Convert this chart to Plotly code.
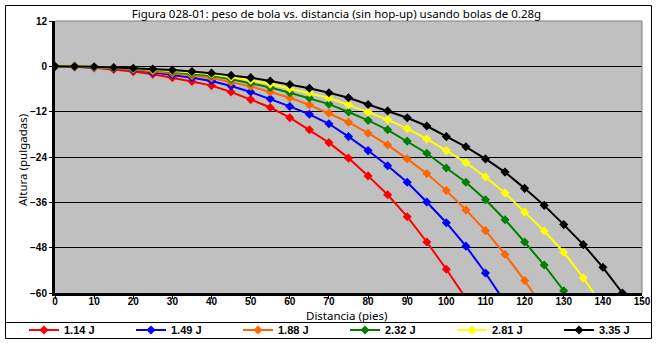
import plotly.graph_objects as go

# distance (feet)
dist_114 = [0, 5, 10, 15, 20, 25, 30, 35, 40, 45, 50, 55, 60, 65, 70, 75, 80, 85, 90, 95, 100, 105]
drop_114 = [0, -0.1, -0.4, -0.8, -1.4, -2.1, -3.0, -4.0, -5.1, -6.8, -8.8, -10.9, -13.6, -16.8, -20.2,
            -24.3, -29.0, -34.0, -39.8, -46.5, -53.7, -61.4]

dist_149 = [0, 5, 10, 15, 20, 25, 30, 35, 40, 45, 50, 55, 60, 65, 70, 75, 80, 85, 90, 95, 100, 105, 110, 115]
drop_149 = [0, -0.1, -0.3, -0.6, -1.0, -1.6, -2.3, -3.0, -3.9, -5.2, -6.8, -8.6, -10.6, -12.7, -15.2,
            -18.6, -22.3, -26.3, -30.7, -35.9, -41.4, -47.6, -54.7, -62.5]

dist_188 = [0, 5, 10, 15, 20, 25, 30, 35, 40, 45, 50, 55, 60, 65, 70, 75, 80, 85, 90, 95, 100, 105, 110,
            115, 120, 125]
drop_188 = [0, -0.1, -0.2, -0.5, -0.8, -1.3, -1.8, -2.5, -3.1, -4.2, -5.3, -6.8, -8.3, -10.2, -12.4,
            -14.8, -17.7, -20.8, -24.5, -28.4, -32.9, -38.0, -43.5, -49.8, -56.7, -64.3]

dist_232 = [0, 5, 10, 15, 20, 25, 30, 35, 40, 45, 50, 55, 60, 65, 70, 75, 80, 85, 90, 95, 100, 105, 110,
            115, 120, 125, 130, 135]
drop_232 = [0, 0, -0.2, -0.4, -0.7, -1.0, -1.5, -2.0, -2.5, -3.4, -4.4, -5.6, -7.0, -8.4, -10.0,
            -12.1, -14.3, -16.8, -19.8, -23.0, -26.9, -30.7, -35.3, -40.6, -46.5, -52.6, -59.4, -67.0]

dist_281 = [0, 5, 10, 15, 20, 25, 30, 35, 40, 45, 50, 55, 60, 65, 70, 75, 80, 85, 90, 95, 100, 105, 110,
            115, 120, 125, 130, 135, 140]
drop_281 = [0, 0, -0.2, -0.3, -0.6, -0.9, -1.2, -1.6, -2.1, -2.9, -3.7, -4.7, -5.9, -7.0, -8.4,
            -10.2, -12.1, -14.1, -16.5, -19.2, -22.3, -25.5, -29.3, -33.5, -38.6, -43.6, -49.2, -56.0, -63.5]

dist_335 = [0, 5, 10, 15, 20, 25, 30, 35, 40, 45, 50, 55, 60, 65, 70, 75, 80, 85, 90, 95, 100, 105, 110,
            115, 120, 125, 130, 135, 140, 145]
drop_335 = [0, 0, -0.1, -0.3, -0.5, -0.7, -1.0, -1.4, -1.8, -2.4, -3.0, -3.9, -4.8, -5.8, -7.0,
            -8.3, -10.1, -11.8, -13.6, -15.8, -18.6, -21.3, -24.5, -28.0, -32.3, -36.8, -41.9, -47.2, -53.2, -60.0]

series_names = ["1.14 J", "1.49 J", "1.88 J", "2.32 J", "2.81 J", "3.35 J"]
series_x = [dist_114, dist_149, dist_188, dist_232, dist_281, dist_335]
series_y = [drop_114, drop_149, drop_188, drop_232, drop_281, drop_335]
series_colors = ["#FF0000", "#0000FF", "#FF6600", "#008000", "#FFFF00", "#000000"]

x_ticks = list(range(0, 151, 10))
y_ticks = [12, 0, -12, -24, -36, -48, -60]

title_text = "Figura 028-01: peso de bola vs. distancia (sin hop-up) usando bolas de 0.28g"
x_title = "Distancia (pies)"
y_title = "Altura (pulgadas)"

W, H = 657, 343
ML, MR, MT, MB = 55, 15, 21, 50
PW, PH = W - ML - MR, H - MT - MB


def px_x(p):
    return (p - ML) / PW


def px_y(p):
    return (H - MB - p) / PH


fig = go.Figure()
for name, xs, ys, col in zip(series_names, series_x, series_y, series_colors):
    fig.add_trace(go.Scatter(
        x=xs, y=ys, name=name, mode="lines+markers",
        line=dict(color=col, width=2),
        marker=dict(symbol="diamond", size=7, color=col, line=dict(width=0)),
    ))

tick_font = dict(family="Liberation Sans", size=10, color="black", weight="bold")
text_font = dict(family="Noto Sans", size=11.5, color="black")

fig.update_layout(
    width=W, height=H,
    margin=dict(l=ML, r=MR, t=MT, b=MB, pad=0, autoexpand=False),
    paper_bgcolor="white",
    plot_bgcolor="#C0C0C0",
    showlegend=True,
    title=dict(text=title_text, x=336.5 / W, xanchor="center", y=1 - 14 / H, yanchor="middle",
               font=text_font),
    xaxis=dict(range=[0, 150], tickvals=x_ticks, showgrid=False, zeroline=False,
               showline=True, linecolor="black", linewidth=3,
               ticks="outside", ticklen=3, tickwidth=1, tickcolor="black",
               ticklabelstandoff=-6, tickfont=tick_font),
    yaxis=dict(range=[-60, 12], tickvals=y_ticks, showgrid=True, gridcolor="black", gridwidth=1,
               zeroline=False, showline=True, linecolor="black", linewidth=3,
               ticks="outside", ticklen=3, tickwidth=1, tickcolor="black",
               tickfont=tick_font),
    legend=dict(orientation="h", xref="paper", yref="paper",
                x=px_x(24), xanchor="left", y=px_y(330), yanchor="middle",
                entrywidth=62, entrywidthmode="pixels",
                font=dict(family="Liberation Sans", size=11, color="black", weight="bold"),
                bgcolor="rgba(0,0,0,0)", borderwidth=0, tracegroupgap=0),
    annotations=[
        dict(text=x_title, xref="paper", yref="paper", x=px_x(346.5), y=px_y(315),
             xanchor="center", yanchor="middle", showarrow=False, font=text_font),
        dict(text=y_title, xref="paper", yref="paper", x=px_x(22), y=px_y(160),
             xanchor="center", yanchor="middle", showarrow=False, textangle=-90, font=text_font),
    ],
    shapes=[
        # outer chart border
        dict(type="rect", xref="paper", yref="paper",
             x0=px_x(5.5), x1=px_x(651.5), y0=px_y(338.5), y1=px_y(5.5),
             line=dict(color="black", width=1), layer="below"),
        # legend separator
        dict(type="line", xref="paper", yref="paper",
             x0=px_x(5.5), x1=px_x(651.5), y0=px_y(322.5), y1=px_y(322.5),
             line=dict(color="black", width=1)),
        # plot area top & right border
        dict(type="line", xref="paper", yref="paper", x0=0, x1=1, y0=1, y1=1,
             line=dict(color="#808080", width=1), layer="above"),
        dict(type="line", xref="paper", yref="paper", x0=1, x1=1, y0=0, y1=1,
             line=dict(color="#808080", width=1), layer="above"),
    ],
)

fig.write_html("out.html")
